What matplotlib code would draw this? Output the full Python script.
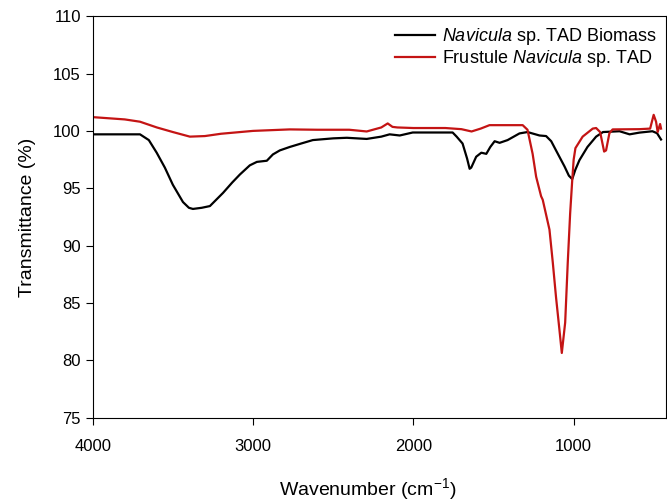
import matplotlib
matplotlib.use("Agg")
from matplotlib import pyplot as plt

plt.rcParams['font.family'] = ['Liberation Sans', 'DejaVu Sans']
plt.rcParams['mathtext.fontset'] = 'custom'
plt.rcParams['mathtext.rm'] = 'Liberation Sans'
plt.rcParams['mathtext.it'] = 'Liberation Sans:italic'

# Navicula sp. TAD biomass (black)
bio_wn = [4000, 3800, 3705, 3650, 3601, 3550, 3500, 3437, 3400, 3375, 3320, 3269,
          3187, 3130, 3082, 3020, 2976, 2914, 2876, 2833, 2771, 2700, 2627, 2500,
          2415, 2291, 2200, 2148, 2085, 2004, 1900, 1800, 1755, 1730, 1693, 1665,
          1649, 1639, 1608, 1576, 1545, 1520, 1493, 1462, 1412, 1338, 1288, 1213,
          1172, 1140, 1110, 1057, 1030, 1009, 990, 964, 914, 860, 817, 714, 651,
          590, 509, 480, 455]
bio_t = [99.7, 99.7, 99.7, 99.2, 98.1, 96.8, 95.3, 93.8, 93.3, 93.2, 93.3, 93.45,
         94.6, 95.5, 96.2, 97.0, 97.3, 97.4, 97.95, 98.3, 98.6, 98.9, 99.2, 99.35,
         99.4, 99.3, 99.5, 99.7, 99.6, 99.86, 99.86, 99.86, 99.86, 99.5, 98.9, 97.6,
         96.7, 96.8, 97.75, 98.1, 98.0, 98.6, 99.1, 98.96, 99.2, 99.78, 99.9, 99.6,
         99.55, 99.1, 98.3, 96.9, 96.1, 95.8, 96.6, 97.45, 98.6, 99.5, 99.9, 99.97, 99.7,
         99.85, 99.97, 99.8, 99.25]

# Frustule Navicula sp. TAD (red)
fru_wn = [4000, 3900, 3800, 3705, 3600, 3500, 3394, 3300, 3200, 3000, 2771, 2600,
          2400, 2291, 2200, 2160, 2130, 2100, 2000, 1800, 1700, 1637, 1580, 1525,
          1400, 1318, 1288, 1256, 1234, 1203, 1193, 1151, 1130, 1110, 1089, 1074,
          1053, 1037, 1022, 1009, 1000, 989, 944, 881, 860, 835, 810, 798, 777,
          757, 590, 523, 501, 486, 476, 461, 455]
fru_t = [101.2, 101.1, 101.0, 100.8, 100.3, 99.9, 99.5, 99.55, 99.75, 100.0, 100.13, 100.1,
         100.1, 99.95, 100.3, 100.65, 100.35, 100.3, 100.25, 100.25, 100.15, 99.95, 100.2, 100.5,
         100.5, 100.5, 100.1, 98.0, 96.0, 94.3, 94.0, 91.4, 88.5, 85.5, 82.7, 80.65,
         83.3, 88.5, 92.8, 95.7, 97.5, 98.5, 99.5, 100.2, 100.25, 99.9, 98.2, 98.3, 99.8,
         100.13, 100.15, 100.2, 101.4, 100.8, 99.9, 100.6, 100.2]

fig = plt.figure(figsize=(6.67, 5.04), dpi=100)
ax = fig.add_axes([0.139, 0.171, 0.86, 0.797])

ax.plot(bio_wn, bio_t, color='black', lw=1.6,
        label=r'$\it{Navicula}$ sp. TAD Biomass')
ax.plot(fru_wn, fru_t, color='#c41414', lw=1.6,
        label=r'Frustule $\it{Navicula}$ sp. TAD')

ax.set_xlim(4000, 422)
ax.set_ylim(75, 110)
ax.set_xticks([4000, 3000, 2000, 1000])
ax.set_yticks([75, 80, 85, 90, 95, 100, 105, 110])
ax.tick_params(labelsize=12, direction='out', length=5)
ax.tick_params(axis='x', pad=10)

ax.set_xlabel('Wavenumber (cm$^{-1}$)', fontsize=14, labelpad=16)
ax.xaxis.set_label_coords(0.48, -0.145)
ax.set_ylabel('Transmittance (%)', fontsize=14, labelpad=12)

ax.legend(loc='upper right', frameon=False, fontsize=13, handlelength=2.2,
          handletextpad=0.4, borderaxespad=0.15, labelspacing=0.05)

fig.savefig('out.png', dpi=100)
